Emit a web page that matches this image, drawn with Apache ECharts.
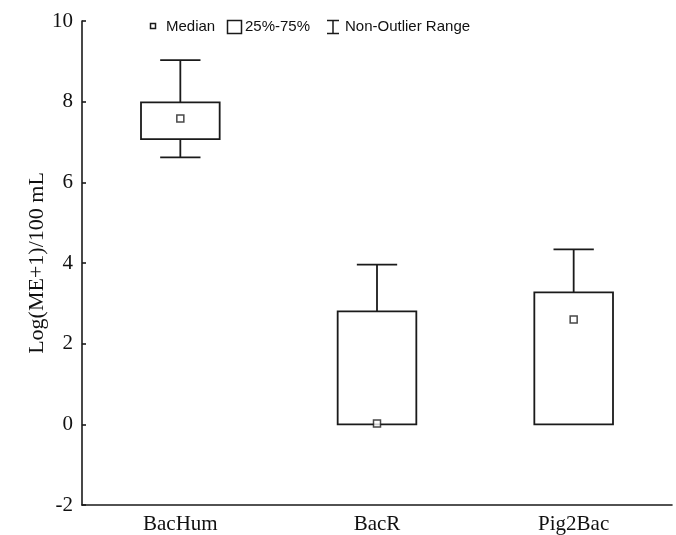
<!DOCTYPE html>
<html>
<head>
<meta charset="utf-8">
<script src="https://cdn.jsdelivr.net/npm/echarts@6/dist/echarts.min.js"></script>
<style>html,body{margin:0;padding:0;background:#fff}#c{width:676px;height:535px}</style>
</head>
<body>
<div id="c"></div>
<script>
var categories = ['BacHum', 'BacR', 'Pig2Bac'];
var whiskerMin = [6.62, 0, 0];
var q1 = [7.07, 0, 0];
var median = [7.58, 0.02, 2.60];
var q3 = [7.98, 2.80, 3.27];
var whiskerMax = [9.03, 3.96, 4.34];
var yTicks = [-2, 0, 2, 4, 6, 8, 10];
var legendLabels = ['Median', '25%-75%', 'Non-Outlier Range'];

var boxData = categories.map(function (c, i) {
  return [i, whiskerMin[i], q1[i], median[i], q3[i], whiskerMax[i]];
});
var medData = categories.map(function (c, i) { return [i, median[i]]; });

var INK = '#1a1a1a';
var chart = echarts.init(document.getElementById('c'));
chart.setOption({
  animation: false,
  backgroundColor: '#fff',
  grid: { left: 82, right: 4, top: 21, bottom: 30 },
  xAxis: {
    type: 'category',
    data: categories,
    axisLine: { onZero: false, lineStyle: { color: INK, width: 1.6 } },
    axisTick: { inside: true, alignWithLabel: true, length: 4, lineStyle: { color: INK, width: 1.6 } },
    axisLabel: { color: '#111', fontFamily: 'Liberation Serif', fontSize: 21, margin: 9 }
  },
  yAxis: {
    type: 'value',
    min: yTicks[0], max: yTicks[yTicks.length - 1], interval: 2,
    name: 'Log(ME+1)/100 mL',
    nameLocation: 'middle',
    nameGap: 34,
    nameMoveOverlap: false,
    nameTextStyle: { color: '#111', fontFamily: 'Liberation Serif', fontSize: 22 },
    axisLine: { show: true, lineStyle: { color: INK, width: 1.6 } },
    axisTick: { show: true, inside: true, length: 4, lineStyle: { color: INK, width: 1.6 } },
    axisLabel: { color: '#111', fontFamily: 'Liberation Serif', fontSize: 21, margin: 9 },
    splitLine: { show: false }
  },
  graphic: [
    { type: 'rect', shape: { x: 150.5, y: 23.5, width: 5, height: 5 }, style: { fill: '#fff', stroke: INK, lineWidth: 1.5 } },
    { type: 'text', x: 166, y: 27, style: { text: legendLabels[0], fontFamily: 'Liberation Sans', fontSize: 15, fill: '#111', verticalAlign: 'middle' } },
    { type: 'rect', shape: { x: 227.5, y: 20.5, width: 14, height: 13 }, style: { fill: '#fff', stroke: INK, lineWidth: 1.5 } },
    { type: 'text', x: 245, y: 27, style: { text: legendLabels[1], fontFamily: 'Liberation Sans', fontSize: 15, fill: '#111', verticalAlign: 'middle' } },
    { type: 'polyline', shape: { points: [[327, 20.5], [339, 20.5]] }, style: { stroke: INK, lineWidth: 1.5 } },
    { type: 'polyline', shape: { points: [[333, 20.5], [333, 33.5]] }, style: { stroke: INK, lineWidth: 1.5 } },
    { type: 'polyline', shape: { points: [[327, 33.5], [339, 33.5]] }, style: { stroke: INK, lineWidth: 1.5 } },
    { type: 'text', x: 345, y: 27, style: { text: legendLabels[2], fontFamily: 'Liberation Sans', fontSize: 15, fill: '#111', verticalAlign: 'middle' } }
  ],
  series: [
    {
      type: 'custom',
      data: boxData,
      encode: { x: 0, y: [1, 2, 3, 4, 5] },
      renderItem: function (params, api) {
        var i = api.value(0);
        var band = api.size([1, 0])[0];
        var bw = band * 0.40;
        var cw = band * 0.205;
        var pMin = api.coord([i, api.value(1)]);
        var pQ1 = api.coord([i, api.value(2)]);
        var pQ3 = api.coord([i, api.value(4)]);
        var pMax = api.coord([i, api.value(5)]);
        var x = pQ1[0];
        var st = { stroke: INK, lineWidth: 1.8, fill: 'none' };
        var children = [
          { type: 'line', shape: { x1: x, y1: pQ3[1], x2: x, y2: pMax[1] }, style: st },
          { type: 'line', shape: { x1: x - cw / 2, y1: pMax[1], x2: x + cw / 2, y2: pMax[1] }, style: st },
          { type: 'rect', shape: { x: x - bw / 2, y: pQ3[1], width: bw, height: pQ1[1] - pQ3[1] }, style: { stroke: INK, lineWidth: 1.8, fill: '#fff' } }
        ];
        if (pMin[1] - pQ1[1] > 0.5) {
          children.push({ type: 'line', shape: { x1: x, y1: pQ1[1], x2: x, y2: pMin[1] }, style: st });
          children.push({ type: 'line', shape: { x1: x - cw / 2, y1: pMin[1], x2: x + cw / 2, y2: pMin[1] }, style: st });
        }
        return { type: 'group', children: children };
      },
      z: 2
    },
    {
      type: 'scatter',
      data: medData,
      symbol: 'rect',
      symbolSize: 7,
      itemStyle: { color: '#fff', borderColor: INK, borderWidth: 1.5 },
      z: 3
    }
  ]
});
</script>
</body>
</html>
